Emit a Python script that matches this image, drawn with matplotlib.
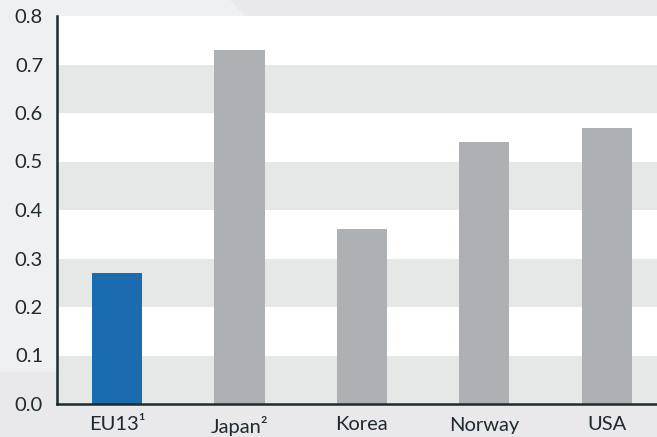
import numpy as np
import matplotlib
matplotlib.use("Agg")
import matplotlib.pyplot as plt
from matplotlib.patches import Polygon

plt.rcParams["font.family"] = ["Lato", "DejaVu Sans"]

# ─── 数据 ──────────────────────────────────────────────
countries = ["EU13\u00b9", "Japan\u00b2", "Korea", "Norway", "USA"]
values = [0.27, 0.73, 0.36, 0.54, 0.57]
bar_colors = ["#1b6baf", "#adb1b4", "#adb1b4", "#adb1b4", "#adb1b4"]
yticks = [0.0, 0.1, 0.2, 0.3, 0.4, 0.5, 0.6, 0.7, 0.8]

W, H = 657, 437
fig = plt.figure(figsize=(W / 100, H / 100), dpi=100, facecolor="#e9e9eb")

# 背景浅色斜块（左上）
pts = [(0, 0), (230, 0), (245, 16), (57, 372), (0, 372)]
fig.patches.append(Polygon([(x / W, 1 - y / H) for x, y in pts],
                           closed=True, transform=fig.transFigure,
                           facecolor="#eff0f2", edgecolor="none", zorder=-5))

ax = fig.add_axes([57 / W, (H - 404) / H, 1 - 57 / W, (404 - 16) / H])
ax.set_zorder(1)
ax.set_facecolor("white")

# 灰白相间的横条
for lo in [0.0, 0.2, 0.4, 0.6]:
    ax.axhspan(lo, lo + 0.1, color="#e6e8e8", lw=0, zorder=0)

x = np.arange(len(countries))
ax.bar(x, values, width=0.41, color=bar_colors, zorder=2)

ax.set_xlim(-0.49, 4.41)
ax.set_ylim(0, 0.8)
ax.set_xticks(x)
ax.set_xticklabels(countries)
ax.set_yticks(yticks)
ax.set_yticklabels([f"{v:.1f}" for v in yticks])
ax.tick_params(axis="both", length=0, labelsize=14.5, colors="#1f2a30")
ax.tick_params(axis="y", pad=10)
ax.tick_params(axis="x", pad=9)

for side in ["top", "right"]:
    ax.spines[side].set_visible(False)
for side in ["left", "bottom"]:
    ax.spines[side].set_color("#1c2b30")
    ax.spines[side].set_linewidth(1.8)
    ax.spines[side].set_zorder(3)

fig.savefig("out.png", dpi=100, facecolor=fig.get_facecolor())
